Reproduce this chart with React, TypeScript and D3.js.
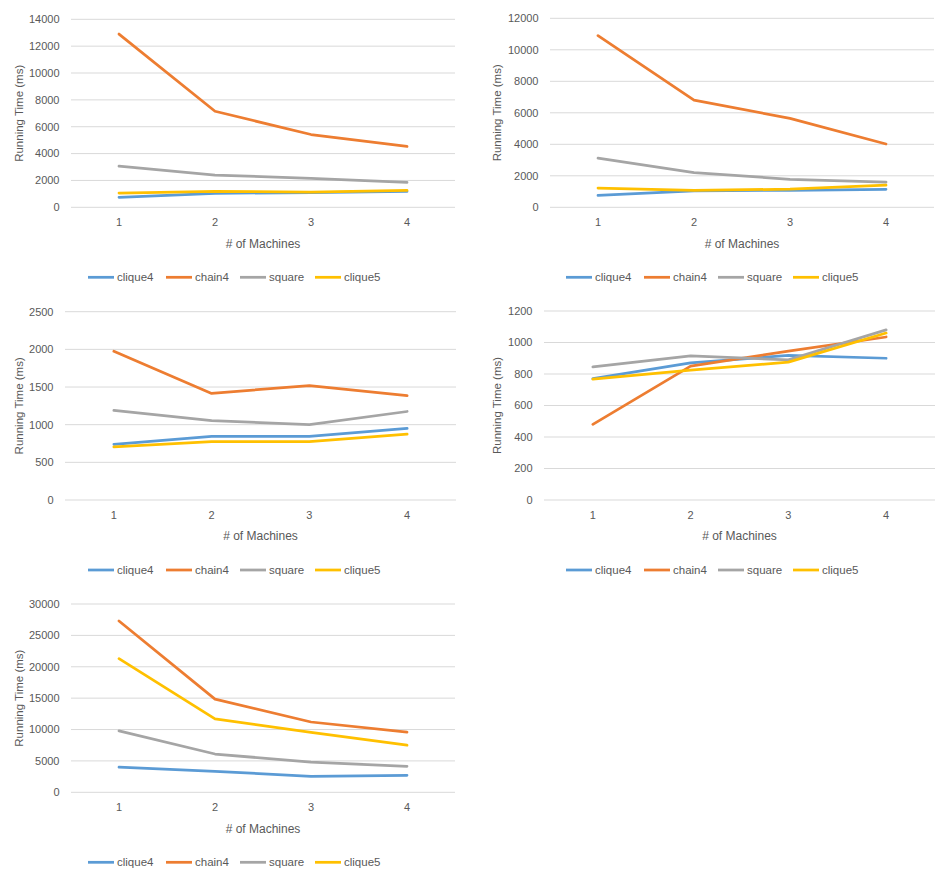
import React from "react";
import * as d3 from "d3";

const machines = [1, 2, 3, 4];
const seriesNames = ["clique4", "chain4", "square", "clique5"];
const seriesColors = ["#5B9BD5", "#ED7D31", "#A5A5A5", "#FFC000"];

// Panel 1
const p1Clique4 = [745, 1040, 1100, 1180];
const p1Chain4 = [12900, 7150, 5420, 4530];
const p1Square = [3060, 2400, 2160, 1860];
const p1Clique5 = [1060, 1190, 1130, 1260];
// Panel 2
const p2Clique4 = [750, 1050, 1080, 1140];
const p2Chain4 = [10900, 6800, 5650, 4020];
const p2Square = [3120, 2200, 1780, 1600];
const p2Clique5 = [1220, 1080, 1150, 1410];
// Panel 3
const p3Clique4 = [740, 845, 845, 950];
const p3Chain4 = [1975, 1415, 1520, 1385];
const p3Square = [1190, 1055, 1000, 1175];
const p3Clique5 = [705, 775, 775, 875];
// Panel 4
const p4Clique4 = [770, 870, 918, 900];
const p4Chain4 = [480, 850, 945, 1035];
const p4Square = [845, 915, 890, 1080];
const p4Clique5 = [768, 825, 875, 1060];
// Panel 5
const p5Clique4 = [4000, 3350, 2550, 2700];
const p5Chain4 = [27300, 14850, 11200, 9600];
const p5Square = [9800, 6100, 4800, 4150];
const p5Clique5 = [21300, 11700, 9550, 7500];

const yMaxes = [14000, 12000, 2500, 1200, 30000];
const ySteps = [2000, 2000, 500, 200, 5000];

const xTitle = "# of Machines";
const yTitle = "Running Time (ms)";

const FONT = "'Liberation Sans', Arial, sans-serif";
const TEXT = "#595959";

type PanelProps = {
  series: number[][];
  yMax: number;
  yStep: number;
  x0: number;
  x1: number;
  yTop: number;
  yBottom: number;
  yTitleX: number;
  legendX: number;
};

function Panel({ series, yMax, yStep, x0, x1, yTop, yBottom, yTitleX, legendX }: PanelProps) {
  const x = d3.scaleBand<number>().domain(machines).range([x0, x1]);
  const y = d3.scaleLinear().domain([0, yMax]).range([yBottom, yTop]);
  const ticks = d3.range(0, yMax + yStep / 2, yStep);
  const line = d3
    .line<number>()
    .x((_, i) => (x(machines[i]) as number) + x.bandwidth() / 2)
    .y((d) => y(d));
  const legendOffsets = [0, 78, 152, 227];
  const cx = (x0 + x1) / 2;
  return (
    <g>
      {ticks.map((t) => (
        <g key={t}>
          <line x1={x0} x2={x1} y1={y(t)} y2={y(t)} stroke="#D9D9D9" strokeWidth={1} />
          <text
            x={x0 - 11.5}
            y={y(t)}
            dy="0.35em"
            textAnchor="end"
            fontSize={11}
            fill={TEXT}
            fontFamily={FONT}
          >
            {t}
          </text>
        </g>
      ))}
      {machines.map((m) => (
        <text
          key={m}
          x={(x(m) as number) + x.bandwidth() / 2}
          y={yBottom + 15}
          dy="0.35em"
          textAnchor="middle"
          fontSize={11}
          fill={TEXT}
          fontFamily={FONT}
        >
          {m}
        </text>
      ))}
      <text
        x={cx}
        y={yBottom + 36}
        dy="0.35em"
        textAnchor="middle"
        fontSize={12}
        fill={TEXT}
        fontFamily={FONT}
      >
        {xTitle}
      </text>
      <text
        transform={`translate(${yTitleX},${(yTop + yBottom) / 2}) rotate(-90)`}
        dy="0.35em"
        textAnchor="middle"
        fontSize={11.5}
        fill={TEXT}
        fontFamily={FONT}
      >
        {yTitle}
      </text>
      {series.map((s, i) => (
        <path
          key={seriesNames[i]}
          d={line(s) as string}
          fill="none"
          stroke={seriesColors[i]}
          strokeWidth={2.75}
          strokeLinejoin="round"
          strokeLinecap="round"
        />
      ))}
      {seriesNames.map((n, i) => (
        <g key={n} transform={`translate(${legendX + legendOffsets[i]},${yBottom + 70})`}>
          <line x1={0} x2={26} y1={0} y2={0} stroke={seriesColors[i]} strokeWidth={2.75} />
          <text x={29} y={0} dy="0.35em" fontSize={11.5} fill={TEXT} fontFamily={FONT}>
            {n}
          </text>
        </g>
      ))}
    </g>
  );
}

export default function App() {
  const panels: PanelProps[] = [
    {
      series: [p1Clique4, p1Chain4, p1Square, p1Clique5],
      yMax: yMaxes[0], yStep: ySteps[0],
      x0: 71, x1: 455, yTop: 19.3, yBottom: 207.3, yTitleX: 19, legendX: 88,
    },
    {
      series: [p2Clique4, p2Chain4, p2Square, p2Clique5],
      yMax: yMaxes[1], yStep: ySteps[1],
      x0: 550, x1: 934, yTop: 18.3, yBottom: 207.3, yTitleX: 497, legendX: 566,
    },
    {
      series: [p3Clique4, p3Chain4, p3Square, p3Clique5],
      yMax: yMaxes[2], yStep: ySteps[2],
      x0: 65, x1: 456, yTop: 311.7, yBottom: 500, yTitleX: 19, legendX: 88,
    },
    {
      series: [p4Clique4, p4Chain4, p4Square, p4Clique5],
      yMax: yMaxes[3], yStep: ySteps[3],
      x0: 544, x1: 935, yTop: 311, yBottom: 500, yTitleX: 497, legendX: 566,
    },
    {
      series: [p5Clique4, p5Chain4, p5Square, p5Clique5],
      yMax: yMaxes[4], yStep: ySteps[4],
      x0: 71, x1: 455, yTop: 604, yBottom: 792.3, yTitleX: 19, legendX: 88,
    },
  ];
  return (
    <svg
      width={944}
      height={880}
      style={{ position: "absolute", left: 0, top: 0, background: "#fff" }}
    >
      <rect width={944} height={880} fill="#fff" />
      {panels.map((p, i) => (
        <Panel key={i} {...p} />
      ))}
    </svg>
  );
}
